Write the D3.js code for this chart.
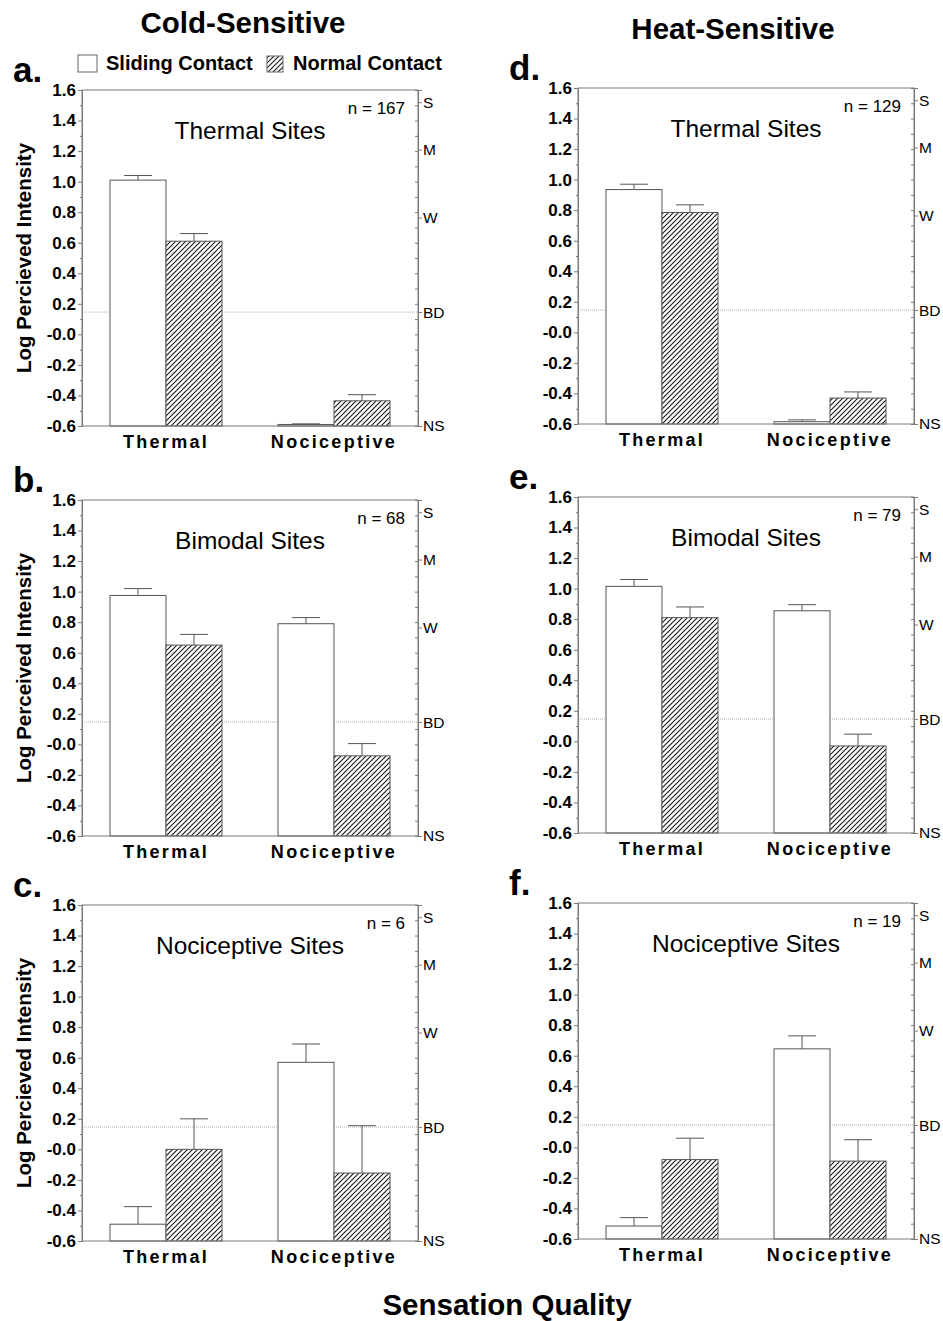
<!DOCTYPE html>
<html><head><meta charset="utf-8">
<script src="https://cdn.jsdelivr.net/npm/d3@7"></script>
<style>
body{margin:0;background:#fff;}
svg{display:block;font-family:"Liberation Sans",Arial,sans-serif;}
</style></head>
<body>
<svg id="chart" width="943" height="1321"></svg>
<script>
// ---------- data ----------
const categories = ["Thermal", "Nociceptive"];
const seriesNames = ["Sliding Contact", "Normal Contact"];
const panelLetters = ["a.", "b.", "c.", "d.", "e.", "f."];
const siteTitles = ["Thermal Sites", "Bimodal Sites", "Nociceptive Sites", "Thermal Sites", "Bimodal Sites", "Nociceptive Sites"];
const nLabels = ["n = 167", "n = 68", "n = 6", "n = 129", "n = 79", "n = 19"];
const yTitles = ["Log Percieved Intensity", "Log Perceived Intensity", "Log Percieved Intensity", "", "", ""];
const columnTitles = ["Cold-Sensitive", "Heat-Sensitive"];
const xTitle = "Sensation Quality";

// mean values [Thermal, Nociceptive] and upward SEM
const slidingA = [1.01, -0.59],  slidingErrA = [0.03, 0.004];
const normalA  = [0.61, -0.435], normalErrA  = [0.05, 0.04];
const slidingB = [0.975, 0.79],  slidingErrB = [0.045, 0.04];
const normalB  = [0.65, -0.075], normalErrB  = [0.07, 0.08];
const slidingC = [-0.49, 0.57],  slidingErrC = [0.115, 0.12];
const normalC  = [0.0, -0.155],  normalErrC  = [0.2, 0.31];
const slidingD = [0.935, -0.585], slidingErrD = [0.035, 0.012];
const normalD  = [0.785, -0.43], normalErrD  = [0.05, 0.04];
const slidingE = [1.015, 0.855], slidingErrE = [0.045, 0.04];
const normalE  = [0.81, -0.03],  normalErrE  = [0.07, 0.077];
const slidingF = [-0.515, 0.645], slidingErrF = [0.055, 0.085];
const normalF  = [-0.08, -0.09], normalErrF  = [0.14, 0.14];

const yTickValues = [-0.6, -0.4, -0.2, 0.0, 0.2, 0.4, 0.6, 0.8, 1.0, 1.2, 1.4, 1.6];
const yTickLabels = ["-0.6", "-0.4", "-0.2", "-0.0", "0.2", "0.4", "0.6", "0.8", "1.0", "1.2", "1.4", "1.6"];
const yMinorValues = [-0.5, -0.3, -0.1, 0.1, 0.3, 0.5, 0.7, 0.9, 1.1, 1.3, 1.5];
const lmsValues = [1.52, 1.21, 0.765, 0.146, -0.6];
const lmsLabels = ["S", "M", "W", "BD", "NS"];
const bdValue = 0.146;

// ---------- build table ----------
const sliding = [slidingA, slidingB, slidingC, slidingD, slidingE, slidingF];
const slidingErr = [slidingErrA, slidingErrB, slidingErrC, slidingErrD, slidingErrE, slidingErrF];
const normal = [normalA, normalB, normalC, normalD, normalE, normalF];
const normalErr = [normalErrA, normalErrB, normalErrC, normalErrD, normalErrE, normalErrF];

const panelPos = [
  {x: 82, y: 90}, {x: 82, y: 500}, {x: 82, y: 905},
  {x: 578, y: 88}, {x: 578, y: 497}, {x: 578, y: 903}
];
const W = 336, H = 336;
const FONT = '"Liberation Sans", Arial, sans-serif';

const svg = d3.select("#chart");
const defs = svg.append("defs");
const HS = 5;
const pat = defs.append("pattern").attr("id", "hatch").attr("patternUnits", "userSpaceOnUse")
  .attr("width", HS).attr("height", HS);
pat.append("rect").attr("width", HS).attr("height", HS).attr("fill", "#fff");
pat.append("path").attr("d", `M-1,1 L1,-1 M0,${HS} L${HS},0 M${HS-1},${HS+1} L${HS+1},${HS-1}`)
  .attr("stroke", "#111").attr("stroke-width", 1.05);

const fills = ["#fff", "url(#hatch)"];
const frameColor = "#7a7a7a";

panelPos.forEach((p, i) => {
  const g = svg.append("g").attr("transform", `translate(${p.x},${p.y})`);
  const y = d3.scaleLinear().domain([-0.6, 1.6]).range([H, 0]);
  const x = d3.scaleBand().domain(categories).range([0, W]).paddingInner(1/3).paddingOuter(1/6);
  const xs = d3.scaleBand().domain(seriesNames).range([0, x.bandwidth()]).padding(0);

  const rows = [];
  categories.forEach((c, ci) => {
    rows.push({cat: c, s: seriesNames[0], v: sliding[i][ci], e: slidingErr[i][ci], f: fills[0]});
    rows.push({cat: c, s: seriesNames[1], v: normal[i][ci], e: normalErr[i][ci], f: fills[1]});
  });

  // BD dotted line
  g.append("line").attr("x1", 0).attr("x2", W).attr("y1", y(bdValue)).attr("y2", y(bdValue))
    .attr("stroke", "#9a9a9a").attr("stroke-width", 0.8).attr("stroke-dasharray", "1,1");

  // error bars (upward)
  const eb = g.append("g");
  rows.forEach(r => {
    const cx = x(r.cat) + xs(r.s) + xs.bandwidth() / 2;
    const hw = xs.bandwidth() / 4;
    eb.append("line").attr("x1", cx).attr("x2", cx).attr("y1", y(r.v)).attr("y2", y(r.v + r.e))
      .attr("stroke", "#555").attr("stroke-width", 1);
    eb.append("line").attr("x1", cx - hw).attr("x2", cx + hw).attr("y1", y(r.v + r.e)).attr("y2", y(r.v + r.e))
      .attr("stroke", "#555").attr("stroke-width", 1);
  });

  // bars
  g.selectAll("rect.bar").data(rows).join("rect").attr("class", "bar")
    .attr("x", r => x(r.cat) + xs(r.s))
    .attr("width", xs.bandwidth())
    .attr("y", r => y(r.v))
    .attr("height", r => y(-0.6) - y(r.v))
    .attr("fill", r => r.f)
    .attr("stroke", "#555").attr("stroke-width", 1);

  // frame
  g.append("rect").attr("x", 0).attr("y", 0).attr("width", W).attr("height", H)
    .attr("fill", "none").attr("stroke", frameColor).attr("stroke-width", 1);

  // left axis
  const la = g.append("g").call(d3.axisLeft(y).tickValues(yTickValues).tickSize(4)
    .tickFormat((d, k) => yTickLabels[k]));
  la.select(".domain").attr("stroke", frameColor);
  la.selectAll(".tick line").attr("stroke", frameColor);
  la.selectAll(".tick text").attr("font-family", FONT).attr("font-size", 17).attr("font-weight", "bold")
    .attr("fill", "#000").attr("x", -6);
  const lm = g.append("g").call(d3.axisLeft(y).tickValues(yMinorValues).tickSize(2).tickFormat(""));
  lm.select(".domain").remove();
  lm.selectAll(".tick line").attr("stroke", frameColor);

  // right axis: inward minor ticks + labelled LMS ticks
  const rm = g.append("g").attr("transform", `translate(${W},0)`)
    .call(d3.axisLeft(y).tickValues(yMinorValues.concat(yTickValues)).tickSize(3).tickFormat(""));
  rm.select(".domain").remove();
  rm.selectAll(".tick line").attr("stroke", frameColor);
  const ra = g.append("g").attr("transform", `translate(${W},0)`)
    .call(d3.axisRight(y).tickValues(lmsValues).tickSize(4).tickPadding(1).tickFormat((d, k) => lmsLabels[k]));
  ra.select(".domain").attr("stroke", frameColor);
  ra.selectAll(".tick line").attr("stroke", frameColor);
  ra.selectAll(".tick text").attr("font-family", FONT).attr("font-size", 15.5).attr("fill", "#000");

  // bottom category labels
  const ba = g.append("g").attr("transform", `translate(0,${H})`)
    .call(d3.axisBottom(x).tickSize(0).tickPadding(9));
  ba.select(".domain").remove();
  ba.selectAll(".tick text").attr("font-family", FONT).attr("font-size", 18).attr("font-weight", "bold")
    .attr("fill", "#000").attr("letter-spacing", "2.3px").attr("dy", "0.71em");

  // texts
  g.append("text").attr("x", W - 13).attr("y", 24).attr("text-anchor", "end")
    .attr("font-family", FONT).attr("font-size", 17).text(nLabels[i]);
  g.append("text").attr("x", W / 2).attr("y", 49).attr("text-anchor", "middle")
    .attr("font-family", FONT).attr("font-size", 24.5).text(siteTitles[i]);
  g.append("text").attr("x", -69).attr("y", -8)
    .attr("font-family", FONT).attr("font-size", 35).attr("font-weight", "bold").text(panelLetters[i]);
  if (yTitles[i]) {
    g.append("text").attr("transform", `translate(-51,${H / 2}) rotate(-90)`).attr("text-anchor", "middle")
      .attr("font-family", FONT).attr("font-size", 20.5).attr("font-weight", "bold").text(yTitles[i]);
  }
});

// column titles
svg.append("text").attr("x", 243).attr("y", 33).attr("text-anchor", "middle")
  .attr("font-family", FONT).attr("font-size", 29.5).attr("font-weight", "bold").text(columnTitles[0]);
svg.append("text").attr("x", 733).attr("y", 39).attr("text-anchor", "middle")
  .attr("font-family", FONT).attr("font-size", 29.5).attr("font-weight", "bold").text(columnTitles[1]);

// legend
const leg = svg.append("g");
leg.append("rect").attr("x", 78).attr("y", 55).attr("width", 19).attr("height", 17)
  .attr("fill", "#fff").attr("stroke", "#666");
leg.append("text").attr("x", 106).attr("y", 70).attr("font-family", FONT).attr("font-size", 20)
  .attr("font-weight", "bold").text(seriesNames[0]);
leg.append("rect").attr("x", 267).attr("y", 56).attr("width", 16).attr("height", 16)
  .attr("fill", "url(#hatch)").attr("stroke", "#666");
leg.append("text").attr("x", 293).attr("y", 70).attr("font-family", FONT).attr("font-size", 20)
  .attr("font-weight", "bold").text(seriesNames[1]);

// x title
svg.append("text").attr("x", 507).attr("y", 1315).attr("text-anchor", "middle")
  .attr("font-family", FONT).attr("font-size", 29.5).attr("font-weight", "bold").text(xTitle);
</script>
</body></html>
